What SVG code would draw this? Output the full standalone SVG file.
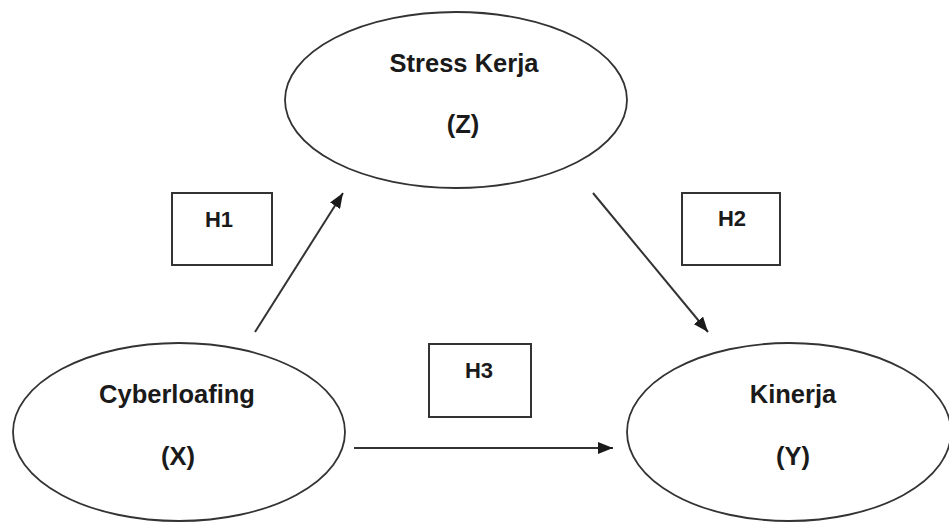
<svg xmlns="http://www.w3.org/2000/svg" width="949" height="523" viewBox="0 0 949 523">
<style>
.node{fill:#fff;stroke:#333;stroke-width:1.8}
.box{fill:#fff;stroke:#333;stroke-width:2}
.lbl{font-family:"Liberation Sans",Arial,sans-serif;font-weight:bold;font-size:25.5px;fill:#1a1a1a;text-anchor:middle}
.h{font-family:"Liberation Sans",Arial,sans-serif;font-weight:bold;font-size:22px;fill:#1a1a1a;text-anchor:middle}
.conn{stroke:#333;stroke-width:2;fill:none;marker-end:url(#ah)}
</style>
<defs>
<marker id="ah" markerUnits="userSpaceOnUse" markerWidth="16" markerHeight="12" refX="15" refY="6" orient="auto">
<path d="M0,0 L15,6 L0,12 z" fill="#1a1a1a"/>
</marker>
</defs>
<rect width="949" height="523" fill="#fff"/>
<g id="connectors">
<line class="conn" x1="255" y1="332" x2="343" y2="193"/>
<line class="conn" x1="593" y1="193" x2="708" y2="332"/>
<line class="conn" x1="354" y1="448" x2="613" y2="448"/>
</g>
<g id="stress">
<ellipse class="node" cx="456" cy="100" rx="171" ry="88"/>
<text class="lbl" x="464" y="72">Stress Kerja</text>
<text class="lbl" x="463" y="133">(Z)</text>
</g>
<g id="cyberloafing">
<ellipse class="node" cx="179" cy="432" rx="166" ry="89"/>
<text class="lbl" x="177" y="403">Cyberloafing</text>
<text class="lbl" x="178" y="465">(X)</text>
</g>
<g id="kinerja">
<ellipse class="node" cx="789" cy="432" rx="162" ry="89"/>
<text class="lbl" x="793" y="403">Kinerja</text>
<text class="lbl" x="793" y="465">(Y)</text>
</g>
<g id="h1">
<rect class="box" x="172" y="193" width="100" height="72"/>
<text class="h" x="219" y="227">H1</text>
</g>
<g id="h2">
<rect class="box" x="682" y="193" width="98" height="72"/>
<text class="h" x="732" y="226">H2</text>
</g>
<g id="h3">
<rect class="box" x="429" y="344" width="102" height="73"/>
<text class="h" x="479" y="378">H3</text>
</g>
</svg>
